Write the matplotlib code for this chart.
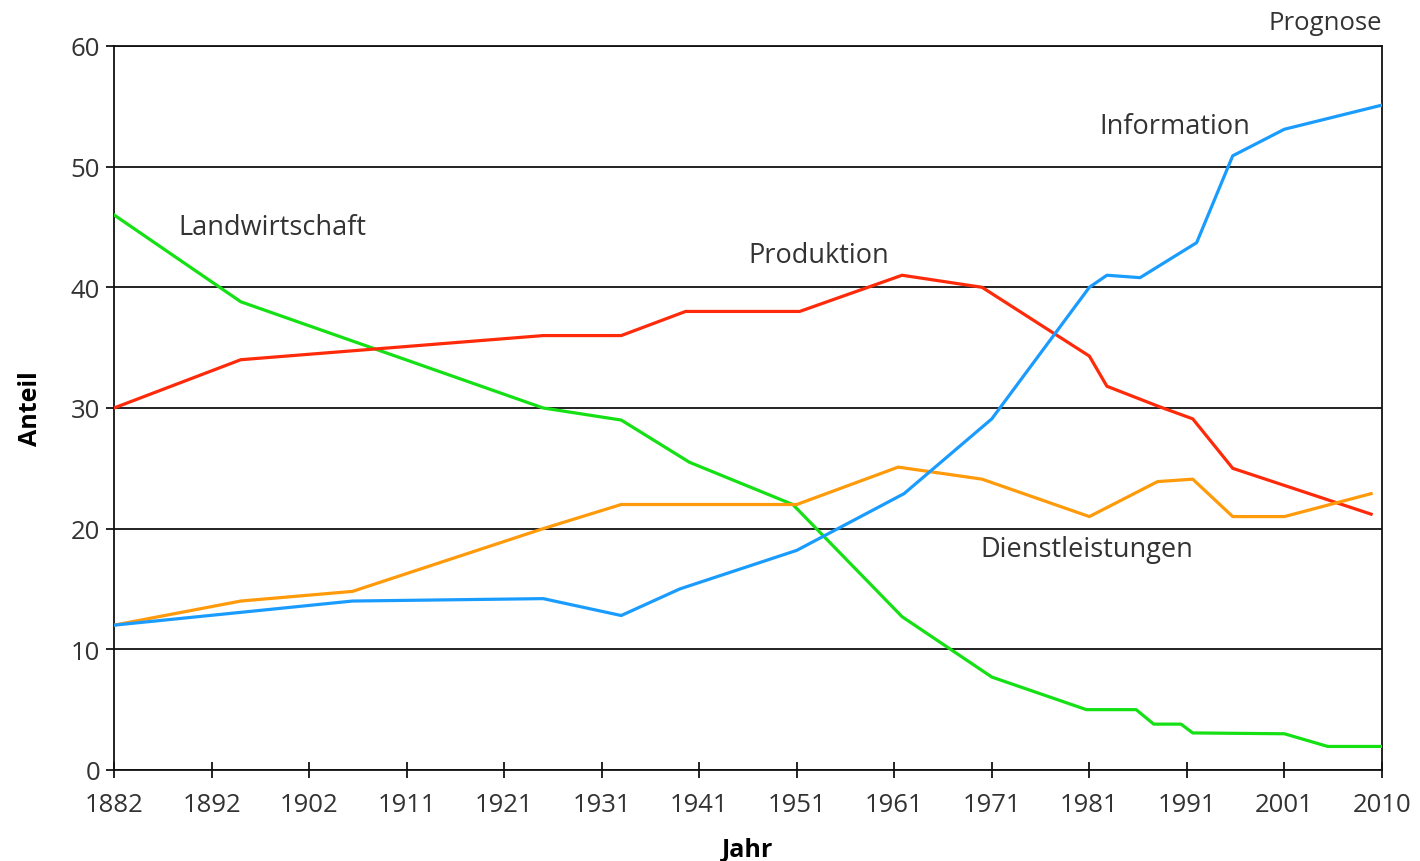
import numpy as np
import matplotlib
matplotlib.use("Agg")
import matplotlib.pyplot as plt

plt.rcParams['font.family'] = ['Open Sans', 'DejaVu Sans']

tick_years = [1882, 1892, 1902, 1911, 1921, 1931, 1941,
              1951, 1961, 1971, 1981, 1991, 2001, 2010]

land_years = [1882, 1895, 1925, 1933, 1940, 1950.6, 1961.8, 1971,
              1980.7, 1985.8, 1987.6, 1990.4, 1991.6, 2001, 2005, 2010]
land_vals = [46, 38.8, 30, 29, 25.5, 22, 12.7, 7.7,
             5.0, 5.0, 3.8, 3.8, 3.07, 3.0, 1.95, 1.95]

prod_years = [1882, 1895, 1925, 1933, 1939.6, 1951.3, 1961.8, 1970,
              1981, 1982.8, 1988.2, 1991.6, 1995.7, 2009]
prod_vals = [30, 34, 36, 36, 38, 38, 41, 40,
             34.3, 31.8, 30.1, 29.1, 25, 21.2]

dienst_years = [1882, 1895, 1906, 1925, 1933, 1951, 1961.4, 1970,
                1981, 1988, 1991.6, 1995.7, 2001, 2009]
dienst_vals = [12, 14, 14.8, 20, 22, 22, 25.1, 24.1,
               21, 23.9, 24.1, 21, 21, 22.9]

info_years = [1882, 1906, 1925, 1933, 1939, 1951, 1962, 1971,
              1981, 1982.8, 1986.2, 1992, 1995.7, 2001, 2010]
info_vals = [12, 14, 14.2, 12.8, 15, 18.2, 22.9, 29.1,
             40, 41, 40.8, 43.7, 50.9, 53.1, 55.1]

tick_pos = np.arange(len(tick_years))


def to_pos(years):
    # the x axis is spaced by tick, not by year
    return np.interp(years, tick_years, tick_pos)


fig = plt.figure(figsize=(14.2, 8.62), dpi=100)
ax = fig.add_axes([0.0803, 0.1056, 0.8929, 0.8399])

ax.plot(to_pos(land_years), land_vals, color='#14e014', lw=2.3, zorder=3)
ax.plot(to_pos(prod_years), prod_vals, color='#ff2a0a', lw=2.3, zorder=3)
ax.plot(to_pos(dienst_years), dienst_vals, color='#ff9a0a', lw=2.3, zorder=3)
ax.plot(to_pos(info_years), info_vals, color='#1a9cff', lw=2.3, zorder=4)

ax.set_xlim(0, len(tick_years) - 1)
ax.set_ylim(0, 60)
ax.set_xticks(tick_pos)
ax.set_xticklabels([str(y) for y in tick_years])
ax.set_yticks(range(0, 61, 10))
ax.yaxis.grid(True, color='#111111', lw=1.3)
ax.set_axisbelow(True)
for s in ax.spines.values():
    s.set_color('#111111')
    s.set_linewidth(1.3)

ax.tick_params(axis='x', direction='inout', length=12, width=1.2,
               pad=10, labelsize=18.5, labelcolor='#333333')
ax.tick_params(axis='y', direction='out', length=6, width=1.2,
               pad=4, labelsize=18.5, labelcolor='#333333')

ax.set_xlabel('Jahr', fontsize=18, fontweight='bold', labelpad=14)
ax.set_ylabel('Anteil', fontsize=18, fontweight='bold', labelpad=20)

txt = dict(fontsize=19.5, color='#333333', va='center', ha='left')
ax.text(to_pos(1888.6), 45, 'Landwirtschaft', **txt)
ax.text(to_pos(1946), 42.7, 'Produktion', **txt)
ax.text(to_pos(1982), 53.4, 'Information', **txt)
ax.text(to_pos(1969.8), 18.3, 'Dienstleistungen', **txt)
ax.text(1.0, 1.032, 'Prognose', transform=ax.transAxes,
        fontsize=18.5, color='#333333', ha='right', va='center')

fig.savefig('out.png', dpi=100)
